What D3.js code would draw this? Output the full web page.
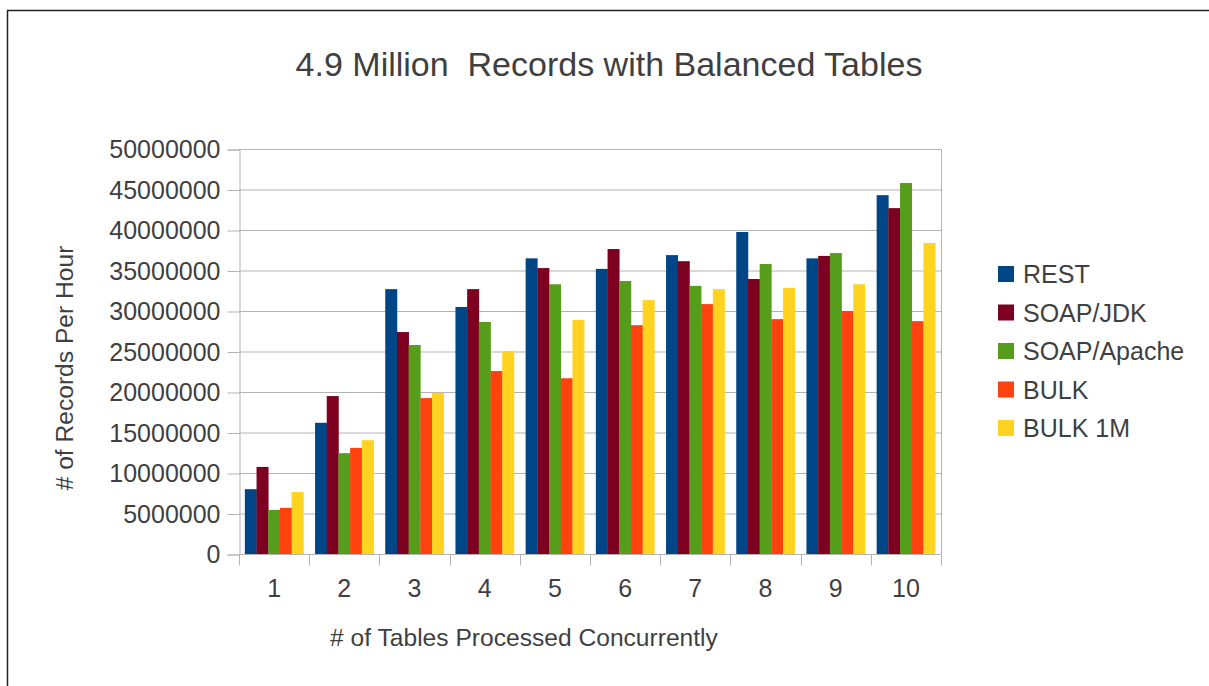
<!DOCTYPE html>
<html>
<head>
<meta charset="utf-8">
<script src="https://cdn.jsdelivr.net/npm/d3@7"></script>
<style>
  body { margin: 0; background: #fff; }
  text { font-family: "Liberation Sans", Arial, sans-serif; fill: #3f3f3f; }
</style>
</head>
<body>
<svg id="chart" width="1209" height="686"></svg>
<script>
var categories = ["1", "2", "3", "4", "5", "6", "7", "8", "9", "10"];
var seriesNames = ["REST", "SOAP/JDK", "SOAP/Apache", "BULK", "BULK 1M"];
var seriesColors = ["#004586", "#7e0021", "#579d1c", "#ff420e", "#ffd320"];

var rest       = [8.0e6, 16.2e6, 32.7e6, 30.5e6, 36.5e6, 35.2e6, 36.9e6, 39.75e6, 36.5e6, 44.3e6];
var soapJdk    = [10.75e6, 19.5e6, 27.4e6, 32.7e6, 35.3e6, 37.65e6, 36.15e6, 33.95e6, 36.8e6, 42.7e6];
var soapApache = [5.45e6, 12.45e6, 25.8e6, 28.65e6, 33.3e6, 33.7e6, 33.1e6, 35.8e6, 37.15e6, 45.8e6];
var bulk       = [5.7e6, 13.1e6, 19.25e6, 22.6e6, 21.7e6, 28.25e6, 30.85e6, 29.0e6, 30.0e6, 28.75e6];
var bulk1m     = [7.65e6, 14.05e6, 19.9e6, 25.05e6, 28.9e6, 31.35e6, 32.7e6, 32.85e6, 33.3e6, 38.4e6];

var yTicks = [0, 5e6, 10e6, 15e6, 20e6, 25e6, 30e6, 35e6, 40e6, 45e6, 50e6];

var series = [rest, soapJdk, soapApache, bulk, bulk1m];

var svg = d3.select("#chart");
var plotLeft = 239, plotTop = 149, plotWidth = 702, plotHeight = 405;

// outer frame (only top and left edges are visible in the picture)
svg.append("line").attr("x1", 7).attr("x2", 1209).attr("y1", 10.5).attr("y2", 10.5)
    .attr("stroke", "#222").attr("stroke-width", 1.5);
svg.append("line").attr("x1", 7.5).attr("x2", 7.5).attr("y1", 10).attr("y2", 686)
    .attr("stroke", "#222").attr("stroke-width", 1.5);

svg.append("text")
    .attr("x", 609).attr("y", 76)
    .attr("font-size", "34px")
    .style("text-anchor", "middle")
    .style("white-space", "pre")
    .text("4.9 Million  Records with Balanced Tables");

var g = svg.append("g").attr("transform", "translate(" + plotLeft + "," + plotTop + ")");

var x0 = d3.scaleBand()
           .domain(categories)
           .range([0, plotWidth])
           .paddingInner(1 / 6)
           .paddingOuter(1 / 12);

var x1 = d3.scaleBand()
           .domain(seriesNames)
           .range([0, x0.bandwidth()]);

var y = d3.scaleLinear()
          .domain([0, 50e6])
          .range([plotHeight, 0]);

// gridlines
g.selectAll(".grid")
  .data(yTicks)
  .enter()
  .append("line")
    .attr("x1", 0).attr("x2", plotWidth)
    .attr("y1", d => y(d) + 0.5).attr("y2", d => y(d) + 0.5)
    .attr("stroke", "#b3b3b3");

// right border of plot
g.append("line")
    .attr("x1", plotWidth + 0.5).attr("x2", plotWidth + 0.5)
    .attr("y1", 0).attr("y2", plotHeight)
    .attr("stroke", "#b3b3b3");

// bars
var rows = categories.map((c, i) => ({
  cat: c,
  vals: seriesNames.map((s, j) => ({ name: s, value: series[j][i], color: seriesColors[j] }))
}));

g.selectAll(".group")
  .data(rows)
  .enter()
  .append("g")
    .attr("transform", d => "translate(" + x0(d.cat) + ",0)")
  .selectAll("rect")
  .data(d => d.vals)
  .enter()
  .append("rect")
    .attr("x", d => x1(d.name))
    .attr("y", d => y(d.value))
    .attr("width", x1.bandwidth() + 0.3)
    .attr("height", d => plotHeight - y(d.value))
    .attr("fill", d => d.color);

// y axis
var yAxis = g.append("g")
    .attr("transform", "translate(0.5,0.5)")
    .call(d3.axisLeft(y).tickValues(yTicks).tickFormat(d3.format("d")).tickSize(12).tickPadding(7));
yAxis.select(".domain").attr("stroke", "#b3b3b3");
yAxis.selectAll(".tick line").attr("stroke", "#b3b3b3");
yAxis.selectAll(".tick text")
    .attr("font-size", "25px")
    .attr("font-family", "Liberation Sans, Arial, sans-serif")
    .attr("fill", "#3f3f3f");

// x axis with ticks at category boundaries
var xAxis = g.append("g")
    .attr("transform", "translate(0," + (plotHeight + 0.5) + ")");
xAxis.append("line")
    .attr("x1", 0).attr("x2", plotWidth)
    .attr("stroke", "#b3b3b3");
var bounds = d3.range(categories.length + 1).map(i => i * x0.step());
xAxis.selectAll(".xtick")
  .data(bounds)
  .enter()
  .append("line")
    .attr("x1", d => Math.round(d) + 0.5).attr("x2", d => Math.round(d) + 0.5)
    .attr("y1", 0).attr("y2", 11)
    .attr("stroke", "#b3b3b3");
xAxis.selectAll(".xlabel")
  .data(categories)
  .enter()
  .append("text")
    .attr("x", d => x0(d) + x0.bandwidth() / 2)
    .attr("y", 42)
    .attr("font-size", "25px")
    .style("text-anchor", "middle")
    .text(d => d);

// axis titles
svg.append("text")
    .attr("x", 524).attr("y", 646)
    .attr("font-size", "24.6px")
    .style("text-anchor", "middle")
    .text("# of Tables Processed Concurrently");

svg.append("text")
    .attr("transform", "translate(73,368) rotate(-90)")
    .attr("font-size", "24.6px")
    .style("text-anchor", "middle")
    .text("# of Records Per Hour");

// legend
var legend = svg.selectAll(".legend")
  .data(seriesNames)
  .enter()
  .append("g")
    .attr("transform", (d, i) => "translate(998," + (274 + i * 38.5) + ")");
legend.append("rect")
    .attr("x", 0).attr("y", -8)
    .attr("width", 16).attr("height", 16)
    .attr("fill", (d, i) => seriesColors[i]);
legend.append("text")
    .attr("x", 25).attr("y", 9)
    .attr("font-size", "25px")
    .text(d => d);
</script>
</body>
</html>
